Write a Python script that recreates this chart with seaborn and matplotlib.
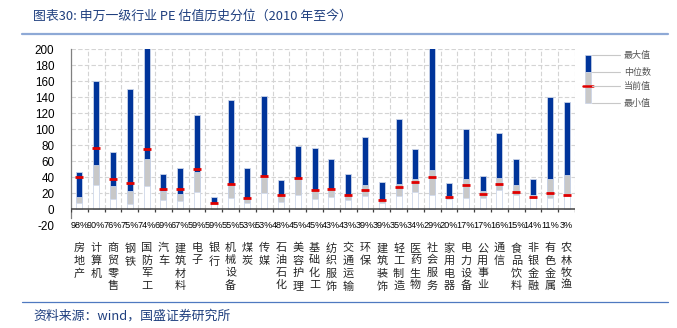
import numpy as np
import pandas as pd
import matplotlib
matplotlib.use("Agg")
import matplotlib.pyplot as plt
from matplotlib.patches import Rectangle
from matplotlib.lines import Line2D
import seaborn as sns

categories = ["房地产", "计算机", "商贸零售", "钢铁", "国防军工", "汽车", "建筑材料", "电子", "银行",
              "机械设备", "煤炭", "传媒", "石油石化", "美容护理", "基础化工", "纺织服饰", "交通运输", "环保",
              "建筑装饰", "轻工制造", "医药生物", "社会服务", "家用电器", "电力设备", "公用事业", "通信",
              "食品饮料", "非银金融", "有色金属", "农林牧渔"]
percentile = [98, 90, 76, 75, 74, 69, 67, 59, 59, 55, 53, 53, 48, 45, 45, 43, 43, 39, 39, 35,
              34, 29, 20, 17, 17, 16, 15, 14, 11, 3]
max_val = [46.6, 159.6, 71.8, 150.5, 230, 43.7, 50.7, 117.5, 14.8, 135.7, 50.7, 141.4, 36.7, 79.2,
           76.7, 63.1, 44.1, 89.9, 33.8, 112.6, 75.0, 240, 32.2, 99.4, 40.8, 94.4, 62.7, 37.5, 139.4, 133.6]
median_val = [15.3, 54.8, 28.9, 21.9, 61.9, 21.9, 19.0, 46.6, 7.8, 31.3, 13.0, 41.2, 17.3, 37.1,
              23.9, 24.7, 17.3, 30.1, 11.1, 30.9, 37.1, 48.7, 16.5, 37.9, 22.7, 39.2, 30.5, 17.3, 37.9, 42.1]
min_val = [7.0, 30.1, 12.8, 6.2, 28.5, 11.1, 9.9, 21.0, 5.8, 13.2, 7.5, 19.8, 9.1, 18.1,
           12.8, 15.3, 11.1, 15.7, 7.4, 15.7, 21.0, 18.1, 12.4, 14.0, 14.0, 23.9, 18.1, 13.5, 13.2, 16.5]
current_val = [39.6, 76.7, 37.1, 33.0, 75.0, 24.7, 24.7, 49.9, 7.0, 31.3, 13.6, 41.2, 17.3, 38.4,
               23.9, 25.2, 17.3, 23.9, 11.1, 27.6, 34.2, 40.4, 14.4, 29.7, 18.6, 31.3, 21.0, 14.4, 19.4, 17.3]
y_ticks = [-20, 0, 20, 40, 60, 80, 100, 120, 140, 160, 180, 200]
legend_labels = ["最大值", "中位数", "当前值", "最小值"]

df = pd.DataFrame({"行业": categories, "max": max_val, "median": median_val,
                   "min": min_val, "current": current_val})

sns.set_style("white")
plt.rcParams["font.family"] = ["Noto Sans CJK SC", "DejaVu Sans"]

W, H = 677, 328
fig = plt.figure(figsize=(W / 100, H / 100), dpi=100)
ax = fig.add_axes([71 / W, 1 - 225 / H, (575 - 71) / W, (225 - 49) / H])

BLUE = "#00349a"
GRAY = "#c8c8c8"
RED = "#e00000"
EDGE = "#c9d3e8"
n = len(categories)

# grid
grid_kw = dict(color="#d4d4d4", linewidth=0.8, linestyle=(0, (4, 2)), zorder=0)
ax.hlines([t for t in y_ticks if t > 0], -0.5, n - 0.5, **grid_kw)
ax.vlines(np.arange(-0.5, n, 1.0), 0, 200, **grid_kw)

bar_w = 0.36
sns.barplot(data=df, x="行业", y="max", order=categories, color=BLUE, saturation=1,
            width=bar_w, edgecolor=EDGE, linewidth=0.6, ax=ax, zorder=2)
sns.barplot(data=df, x="行业", y="median", order=categories, color=GRAY, saturation=1,
            width=bar_w, edgecolor=EDGE, linewidth=0.6, ax=ax, zorder=3)
sns.barplot(data=df, x="行业", y="min", order=categories, color="white", saturation=1,
            width=bar_w, edgecolor="#d3dbec", linewidth=0.6, ax=ax, zorder=4)
sns.pointplot(data=df, x="行业", y="current", order=categories, color=RED,
              marker="_", linestyle="none", errorbar=None, markersize=6,
              markeredgewidth=2.0, ax=ax, zorder=6)

# zero line with ticks
ax.axhline(0, color="#404040", linewidth=1.1, zorder=5)
ax.vlines(np.arange(-0.5, n, 1.0), -3.5, 0, color="#404040", linewidth=0.9, zorder=5)

ax.set_xlim(-0.5, n - 0.5)
ax.set_ylim(-20, 200)
ax.set_yticks(y_ticks)
ax.set_yticklabels([str(t) for t in y_ticks], fontsize=8.4, family=["Liberation Sans"])
ax.tick_params(axis="y", length=0, pad=12, colors="black")
ax.set_xlabel("")
ax.set_ylabel("")

for s in ["top", "right", "bottom"]:
    ax.spines[s].set_visible(False)
ax.spines["left"].set_color("#808080")
ax.spines["left"].set_linewidth(0.9)
ax.spines["left"].set_bounds(-11, 200)

ax.set_xticks(range(n))
ax.set_xticklabels(["\n".join(c) for c in categories], fontsize=8, linespacing=1.3,
                   family=["Noto Sans CJK SC"], va="top")
ax.tick_params(axis="x", length=0, pad=13)

for i, p in enumerate(percentile):
    ax.text(i, -20, f"{p}%", ha="center", va="center", fontsize=6.6,
            family=["Liberation Sans"], color="black", clip_on=False)

# title and source
fig.text(33 / W, 1 - 16 / H, "图表30: 申万一级行业 PE 估值历史分位（2010 年至今）",
         fontsize=9.3, color="#1f3f7f", ha="left", va="center")
fig.add_artist(Line2D([22 / W, 668 / W], [1 - 33.5 / H] * 2, color="#8ea9d6", linewidth=1.6))
fig.add_artist(Line2D([22 / W, 668 / W], [1 - 302 / H] * 2, color="#4f79c0", linewidth=0.9))
fig.text(33 / W, 1 - 316 / H, "资料来源：wind，国盛证券研究所",
         fontsize=9.3, color="#1f3f7f", ha="left", va="center")

# legend
def fx(x):
    return x / W

def fy(y):
    return 1 - y / H

fig.add_artist(Rectangle((fx(585), fy(72)), 6 / W, 17 / H, facecolor=BLUE, edgecolor=EDGE, linewidth=0.5))
fig.add_artist(Rectangle((fx(585), fy(103)), 6 / W, 31 / H, facecolor=GRAY, edgecolor=EDGE, linewidth=0.5))
fig.add_artist(Line2D([fx(583), fx(593)], [fy(86)] * 2, color=RED, linewidth=1.8))
for yy, lab in zip([55, 72, 86, 103], legend_labels):
    fig.add_artist(Line2D([fx(592), fx(620)], [fy(yy)] * 2, color="#c8c8c8", linewidth=0.8))
    fig.text(fx(624), fy(yy), lab, fontsize=6.5, color="#555555", ha="left", va="center")

fig.savefig("out.png", dpi=100, facecolor="white")
